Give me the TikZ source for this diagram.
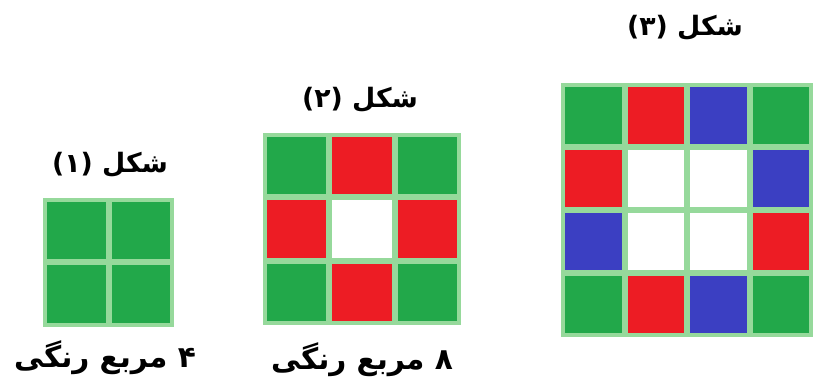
\documentclass[tikz,border=0pt]{standalone}
\usepackage{fontspec}
\newfontfamily\farsifont[Script=Arabic]{DejaVu Sans}
\TeXXeTstate=1
\definecolor{sqgreen}{HTML}{22A84A}
\definecolor{sqred}{HTML}{ED1C24}
\definecolor{sqblue}{HTML}{3B3FC2}
\definecolor{gapgreen}{HTML}{96D99B}
\tikzset{
  caption/.style={font=\farsifont\bfseries\fontsize{19}{23}\selectfont, inner sep=0pt},
  countcap/.style={font=\farsifont\bfseries\fontsize{21}{25}\selectfont, inner sep=0pt},
  gridback/.style={fill=gapgreen}
}
\begin{document}
\begin{tikzpicture}[x=0.025cm, y=-0.025cm]
    \useasboundingbox (0,0) rectangle (813,385);
    % shape 1
    \fill[gridback] (43,198) rectangle ++(131,129);
    \foreach \c [count=\i from 0] in {sqgreen,sqgreen,sqgreen,sqgreen} {
        \pgfmathtruncatemacro\col{mod(\i,2)}
        \pgfmathtruncatemacro\row{div(\i,2)}
        \fill[\c] (47+\col*64.5, 202+\row*63.5) rectangle ++(58.5,57.5);
    }
    % shape 2
    \fill[gridback] (263,133) rectangle ++(198,192);
    \foreach \c [count=\i from 0] in {sqgreen,sqred,sqgreen,sqred,white,sqred,sqgreen,sqred,sqgreen} {
        \pgfmathtruncatemacro\col{mod(\i,3)}
        \pgfmathtruncatemacro\row{div(\i,3)}
        \fill[\c] (267+\col*65.3, 137+\row*63.3) rectangle ++(59.3,57.3);
    }
    % shape 3
    \fill[gridback] (561,83) rectangle ++(252,254);
    \foreach \c [count=\i from 0] in {sqgreen,sqred,sqblue,sqgreen,sqred,white,white,sqblue,sqblue,white,white,sqred,sqgreen,sqred,sqblue,sqgreen} {
        \pgfmathtruncatemacro\col{mod(\i,4)}
        \pgfmathtruncatemacro\row{div(\i,4)}
        \fill[\c] (565+\col*62.5, 87+\row*63) rectangle ++(56.5,57);
    }
    \node[caption] (title1) at (110,165) {\beginR شکل (۱)\endR};
    \node[caption] (title2) at (360,100) {\beginR شکل (۲)\endR};
    \node[caption] (title3) at (685,28) {\beginR شکل (۳)\endR};
    \node[countcap] (count1) at (105,358) {\beginR ۴ مربع رنگی\endR};
    \node[countcap] (count2) at (362,360) {\beginR ۸ مربع رنگی\endR};
\end{tikzpicture}
\end{document}
